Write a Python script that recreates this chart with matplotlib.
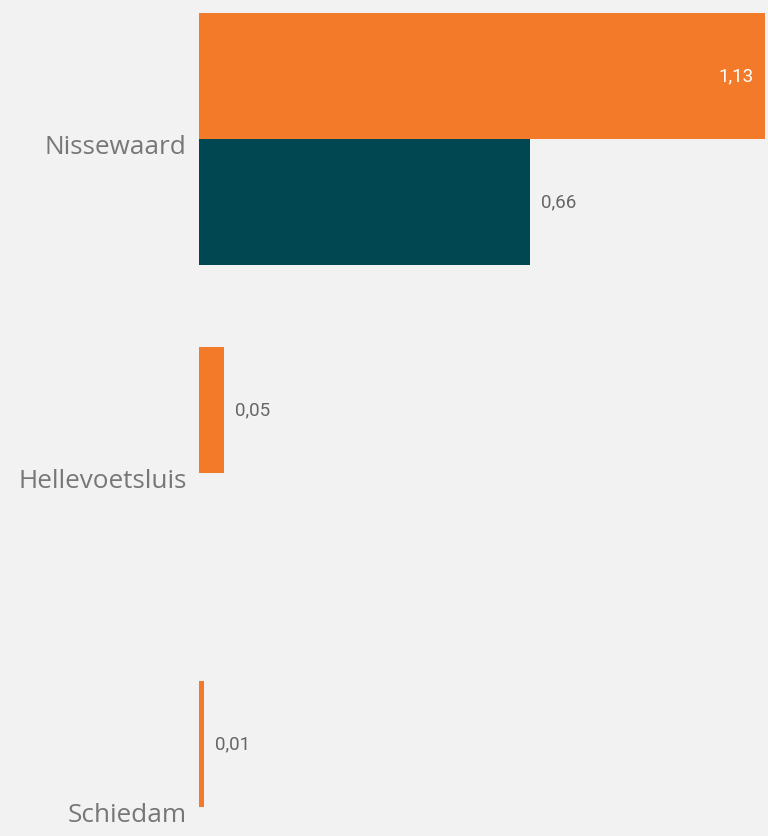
import matplotlib.pyplot as plt
import numpy as np

categories = ["Nissewaard", "Hellevoetsluis", "Schiedam"]
serie_oranje = [1.13, 0.05, 0.01]
serie_teal = [0.66, None, None]

oranje = "#F27A28"
teal = "#004752"
bg = "#F2F2F2"

fig = plt.figure(figsize=(7.68, 8.36), dpi=100, facecolor=bg)
# assen over de volle hoogte, links ruimte voor de labels
ax = fig.add_axes([199 / 768, 0, 569 / 768, 1])
ax.set_facecolor(bg)

y = np.arange(len(categories))
h = 0.378

for i, v in enumerate(serie_oranje):
    ax.barh(y[i] - h / 2, v, height=h, color=oranje)
    if v > 0.5:
        ax.text(v - 0.022, y[i] - h / 2, f"{v:.2f}".replace(".", ","),
                color="white", va="center", ha="right", fontsize=13.5, family="Roboto")
    else:
        ax.text(v + 0.022, y[i] - h / 2, f"{v:.2f}".replace(".", ","),
                color="#666666", va="center", ha="left", fontsize=13.5, family="Roboto")

for i, v in enumerate(serie_teal):
    if v is None:
        continue
    ax.barh(y[i] + h / 2, v, height=h, color=teal)
    ax.text(v + 0.022, y[i] + h / 2, f"{v:.2f}".replace(".", ","),
            color="#666666", va="center", ha="left", fontsize=13.5, family="Roboto")

ax.set_xlim(0, 569 / 500.9)
ax.set_ylim(836 / 334 - 139 / 334, -139 / 334)

ax.set_yticks(y + 0.016)
ax.set_yticklabels(categories, fontsize=18.8, color="#777777", family="Open Sans")
ax.tick_params(axis="y", length=0, pad=9)
ax.set_xticks([])
for s in ax.spines.values():
    s.set_visible(False)

plt.savefig("out.png", dpi=100, facecolor=bg)
